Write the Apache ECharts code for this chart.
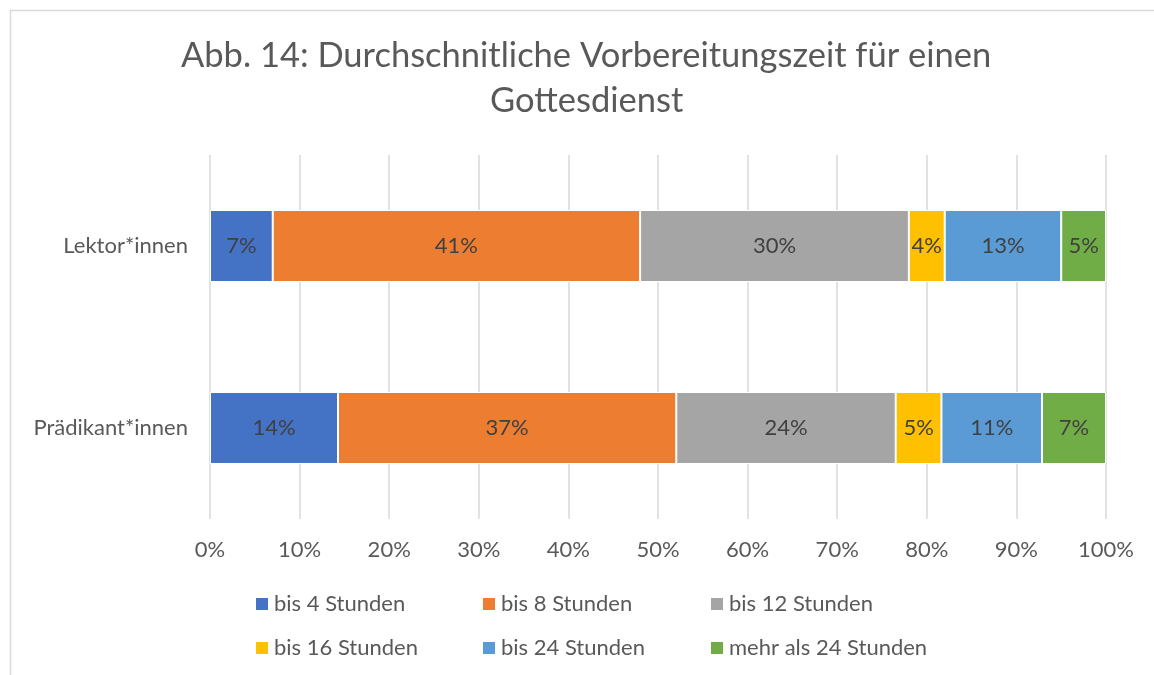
<!DOCTYPE html>
<html>
<head>
<meta charset="utf-8">
<script src="https://cdn.jsdelivr.net/npm/echarts@6/dist/echarts.min.js"></script>
<style>
  html, body { margin: 0; padding: 0; background: #fff; }
  #chart { width: 1154px; height: 675px; }
</style>
</head>
<body>
<div id="chart"></div>
<script>
// Kategorien (von unten nach oben wie im Diagramm)
const categories = ['Prädikant*innen', 'Lektor*innen']
const seriesNames = ['bis 4 Stunden', 'bis 8 Stunden', 'bis 12 Stunden', 'bis 16 Stunden', 'bis 24 Stunden', 'mehr als 24 Stunden']
const colors = ['#4472c4', '#ed7d31', '#a5a5a5', '#ffc000', '#5b9bd5', '#70ad47']

// Prozentwerte je Gruppe (Reihenfolge wie seriesNames)
const praedikantValues = [14, 37, 24, 5, 11, 7]
const lektorValues = [7, 41, 30, 4, 13, 5]
const xTicks = [0, 10, 20, 30, 40, 50, 60, 70, 80, 90, 100]
const titleLines = ['Abb. 14: Durchschnitliche Vorbereitungszeit für einen', 'Gottesdienst']

const groups = [praedikantValues, lektorValues]
const sums = groups.map(g => g.reduce((a, b) => a + b, 0))

const textColor = '#595959'
const font = 'Lato, "Open Sans", sans-serif'

const chart = echarts.init(document.getElementById('chart'))

// 100%-gestapelt: auf Summe normieren, Beschriftung zeigt den Rohwert
const series = seriesNames.map((name, i) => ({
  name: name,
  type: 'bar',
  stack: 'total',
  barWidth: 72,
  itemStyle: { color: colors[i], borderColor: '#fff', borderWidth: 1 },
  label: {
    show: true,
    position: 'inside',
    color: '#404040',
    fontSize: 22,
    fontFamily: font,
    formatter: p => p.data.raw + '%'
  },
  data: groups.map((g, k) => ({ value: g[i] / sums[k] * 100, raw: g[i] }))
}))

// Legende in zwei Zeilen mit festen Spalten
const legendCols = [254, 481, 709]
const legendRows = [593, 637]
const legends = seriesNames.map((name, i) => ({
  data: [name],
  left: legendCols[i % 3],
  top: legendRows[Math.floor(i / 3)],
  icon: 'rect',
  itemWidth: 14,
  itemHeight: 14,
  itemGap: 0,
  padding: 0,
  textStyle: { color: textColor, fontSize: 22, fontFamily: font },
  selectedMode: false
}))

// Titel zweizeilig, jede Zeile um x≈585 zentriert
const titleLeft = [181, 490]
const titles = titleLines.map((t, i) => ({
  text: t,
  left: titleLeft[i],
  top: 38 + i * 45,
  padding: 0,
  textStyle: { color: textColor, fontSize: 34.5, fontWeight: 'normal', fontFamily: font }
}))

const option = {
  animation: false,
  color: colors,
  title: titles,
  graphic: [{
    type: 'rect',
    shape: { x: 10.5, y: 10.5, width: 1200, height: 700 },
    style: { fill: 'none', stroke: '#d9d9d9', lineWidth: 1.5 },
    silent: true
  }],
  legend: legends,
  grid: { left: 210, right: 48, top: 155, bottom: 156, containLabel: false },
  xAxis: {
    type: 'value',
    min: xTicks[0],
    max: xTicks[xTicks.length - 1],
    interval: 10,
    axisLine: { show: false },
    axisTick: { show: false },
    splitLine: { show: true, lineStyle: { color: '#d9d9d9', width: 1.5 } },
    axisLabel: {
      color: textColor,
      fontSize: 22,
      fontFamily: font,
      margin: 20,
      formatter: v => v + '%'
    }
  },
  yAxis: {
    type: 'category',
    data: categories,
    axisLine: { show: false },
    axisTick: { show: false },
    axisLabel: { color: textColor, fontSize: 22, fontFamily: font, margin: 22 }
  },
  series: series
}

chart.setOption(option)
window.addEventListener('resize', () => chart.resize())
</script>
</body>
</html>
